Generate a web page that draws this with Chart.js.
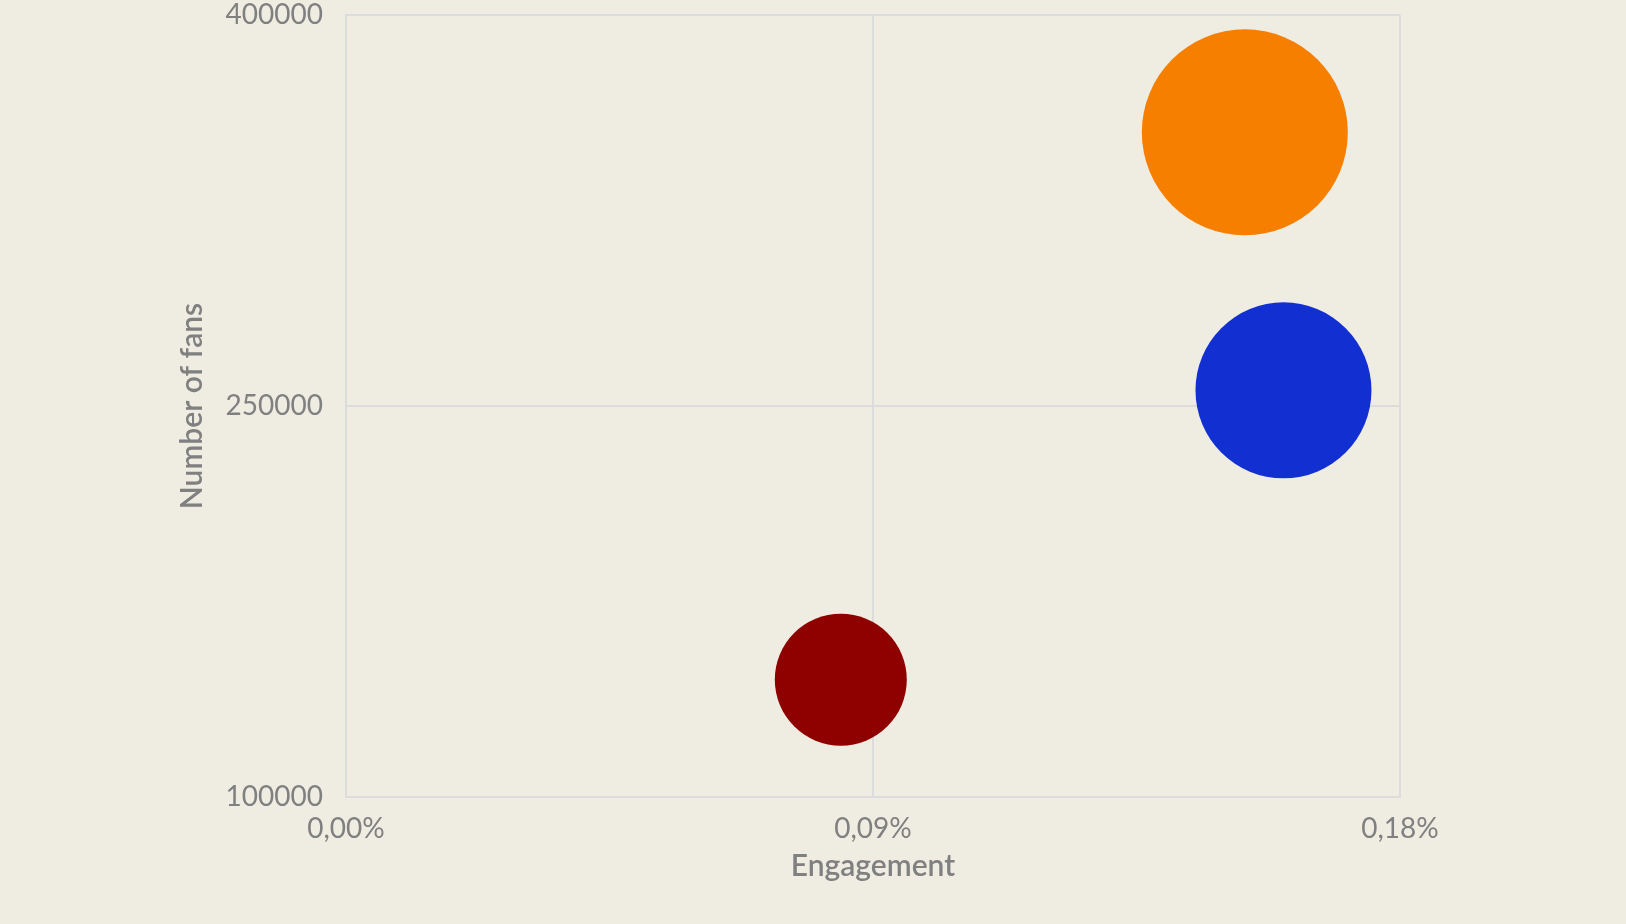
<!DOCTYPE html>
<html>
<head>
<meta charset="utf-8">
<script src="https://cdn.jsdelivr.net/npm/chart.js@4"></script>
<style>
  html, body { margin: 0; padding: 0; background: #efede2; }
  .wrap { width: 1626px; height: 924px; position: relative; }
</style>
</head>
<body>
<div class="wrap"><canvas id="bubbles"></canvas></div>
<script>
const engagement = [0.1535, 0.1601, 0.0845];   // %
const fans = [355000, 256000, 145000];
const radius = [103, 88, 66];
const colors = ['#f77f00', '#1230d2', '#8f0000'];
const xTicks = [0, 0.09, 0.18];
const yTicks = [100000, 250000, 400000];

const TEXT = '#808080';
const GRID = '#dcdcdc';
const FONT = 'Lato';

const datasets = engagement.map((x, i) => ({
    data: [{ x: x, y: fans[i], r: radius[i] }],
    backgroundColor: colors[i],
    borderWidth: 0,
    hoverBorderWidth: 0
}));

const ctx = document.getElementById('bubbles').getContext('2d');
new Chart(ctx, {
    type: 'bubble',
    data: { datasets },
    options: {
        responsive: true,
        maintainAspectRatio: false,
        animation: false,
        clip: false,
        layout: { autoPadding: false, padding: { left: 170, right: 226, top: 15, bottom: 43 } },
        plugins: { legend: { display: false }, tooltip: { enabled: false } },
        scales: {
            x: {
                type: 'linear',
                min: xTicks[0],
                max: xTicks[xTicks.length - 1],
                afterBuildTicks(scale) { scale.ticks = xTicks.map(v => ({ value: v })); },
                afterFit(scale) { scale.height = 84; },
                grid: { color: GRID, lineWidth: 2, drawTicks: false },
                border: { color: GRID, width: 2 },
                ticks: {
                    color: TEXT,
                    font: { family: FONT, size: 28, lineHeight: 1 },
                    padding: 18,
                    callback(value) { return value.toFixed(2).replace('.', ',') + '%'; }
                },
                title: {
                    display: true,
                    text: 'Engagement',
                    color: TEXT,
                    font: { family: FONT, size: 30, weight: '600', lineHeight: 1 },
                    padding: { top: 8, bottom: 0 }
                }
            },
            y: {
                type: 'linear',
                min: yTicks[0],
                max: yTicks[yTicks.length - 1],
                afterBuildTicks(scale) { scale.ticks = yTicks.map(v => ({ value: v })); },
                afterFit(scale) {
                    scale.width = 346 - 170;
                    // keep the label overhang from eating into the plot area
                    scale.paddingTop = 12;
                    scale.paddingBottom = 12;
                },
                grid: { color: GRID, lineWidth: 2, drawTicks: false },
                border: { color: GRID, width: 2 },
                ticks: {
                    color: TEXT,
                    font: { family: FONT, size: 28, lineHeight: 1 },
                    padding: 23,
                    callback(value) { return String(value); }
                },
                title: {
                    display: true,
                    text: 'Number of fans',
                    color: TEXT,
                    font: { family: FONT, size: 30, weight: '600', lineHeight: 1 },
                    padding: { top: 7, bottom: 0 }
                }
            }
        }
    }
});
</script>
</body>
</html>
